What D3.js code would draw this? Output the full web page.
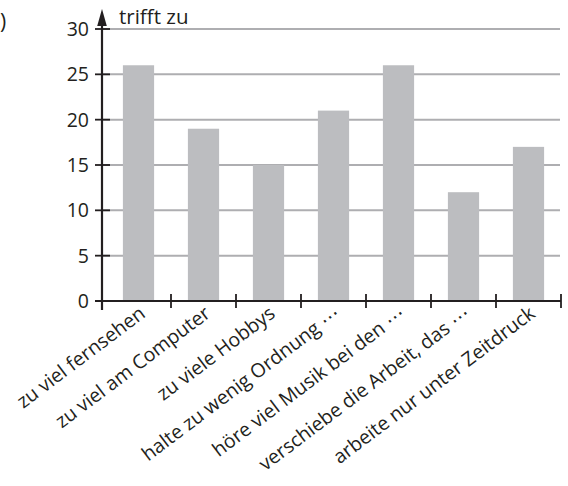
<!DOCTYPE html>
<html>
<head>
<meta charset="utf-8">
<script src="https://cdn.jsdelivr.net/npm/d3@7"></script>
<style>
  html, body { margin: 0; padding: 0; background: #fff; }
  svg { display: block; }
  text { font-family: "Open Sans", "Noto Sans", sans-serif; fill: #231f20; }
</style>
</head>
<body>
<svg id="chart" width="568" height="486"></svg>
<script>
// Answers per statement ("trifft zu" counts)
const categories = [
  "zu viel fernsehen",
  "zu viel am Computer",
  "zu viele Hobbys",
  "halte zu wenig Ordnung ⋯",
  "höre viel Musik bei den ⋯",
  "verschiebe die Arbeit, das ⋯",
  "arbeite nur unter Zeitdruck"
];
const values = [26, 19, 15, 21, 26, 12, 17];
const yTicks = [0, 5, 10, 15, 20, 25, 30];
const yTitle = "trifft zu";
const panelMark = ")";

const ink = "#231f20";
const barFill = "#bcbdc0";
const gridColor = "#aeaeb1";

const svg = d3.select("#chart");

const axisX = 102, baseY = 301, topY = 29, rightX = 561;

const y = d3.scaleLinear().domain([0, 30]).range([baseY, topY]);
const x = d3.scaleBand()
  .domain(categories)
  .range([106, rightX])
  .paddingInner(0.52)
  .paddingOuter(0.26);

// horizontal grid lines
svg.append("g")
  .selectAll("line")
  .data(yTicks.filter(d => d > 0))
  .join("line")
  .attr("x1", axisX).attr("x2", rightX - 1)
  .attr("y1", d => y(d)).attr("y2", d => y(d))
  .attr("stroke", gridColor).attr("stroke-width", 2);

// bars
svg.append("g")
  .selectAll("rect")
  .data(values)
  .join("rect")
  .attr("x", (d, i) => x(categories[i]))
  .attr("width", x.bandwidth())
  .attr("y", d => y(d))
  .attr("height", d => y(0) - y(d))
  .attr("fill", barFill);

// x axis line with separators between categories
svg.append("line")
  .attr("x1", axisX - 7).attr("x2", rightX)
  .attr("y1", baseY).attr("y2", baseY)
  .attr("stroke", ink).attr("stroke-width", 2.2);

const step = x.step();
const sepX = categories.map((c, i) => x(c) + x.bandwidth() + step * x.paddingInner() / 2);
svg.append("g")
  .selectAll("line")
  .data(sepX)
  .join("line")
  .attr("x1", d => d).attr("x2", d => d)
  .attr("y1", baseY - 7).attr("y2", baseY + 7)
  .attr("stroke", ink).attr("stroke-width", 1.8);

// y axis with arrow
svg.append("line")
  .attr("x1", axisX).attr("x2", axisX)
  .attr("y1", baseY + 9).attr("y2", 22)
  .attr("stroke", ink).attr("stroke-width", 2.2);
svg.append("path")
  .attr("d", `M${axisX},9 L${axisX - 4.8},26 L${axisX + 4.8},26 Z`)
  .attr("fill", ink);

svg.append("g")
  .selectAll("line")
  .data(yTicks)
  .join("line")
  .attr("x1", axisX - 7).attr("x2", axisX + 8)
  .attr("y1", d => y(d)).attr("y2", d => y(d))
  .attr("stroke", ink).attr("stroke-width", 1.8);

svg.append("g")
  .selectAll("text")
  .data(yTicks)
  .join("text")
  .attr("x", 89)
  .attr("y", d => y(d))
  .attr("dy", "0.36em")
  .attr("text-anchor", "end")
  .attr("font-size", 19.5)
  .text(d => d);

svg.append("text")
  .attr("x", 119).attr("y", 24)
  .attr("font-size", 20.5)
  .text(yTitle);

svg.append("text")
  .attr("x", 0).attr("y", 29)
  .attr("font-size", 21)
  .text(panelMark);

// rotated category labels
svg.append("g")
  .selectAll("text")
  .data(categories)
  .join("text")
  .attr("transform", d => `translate(${x(d) + x.bandwidth() / 2 + 8},${baseY + 15}) rotate(-37)`)
  .attr("text-anchor", "end")
  .attr("font-size", 19.5)
  .text(d => d);
</script>
</body>
</html>
